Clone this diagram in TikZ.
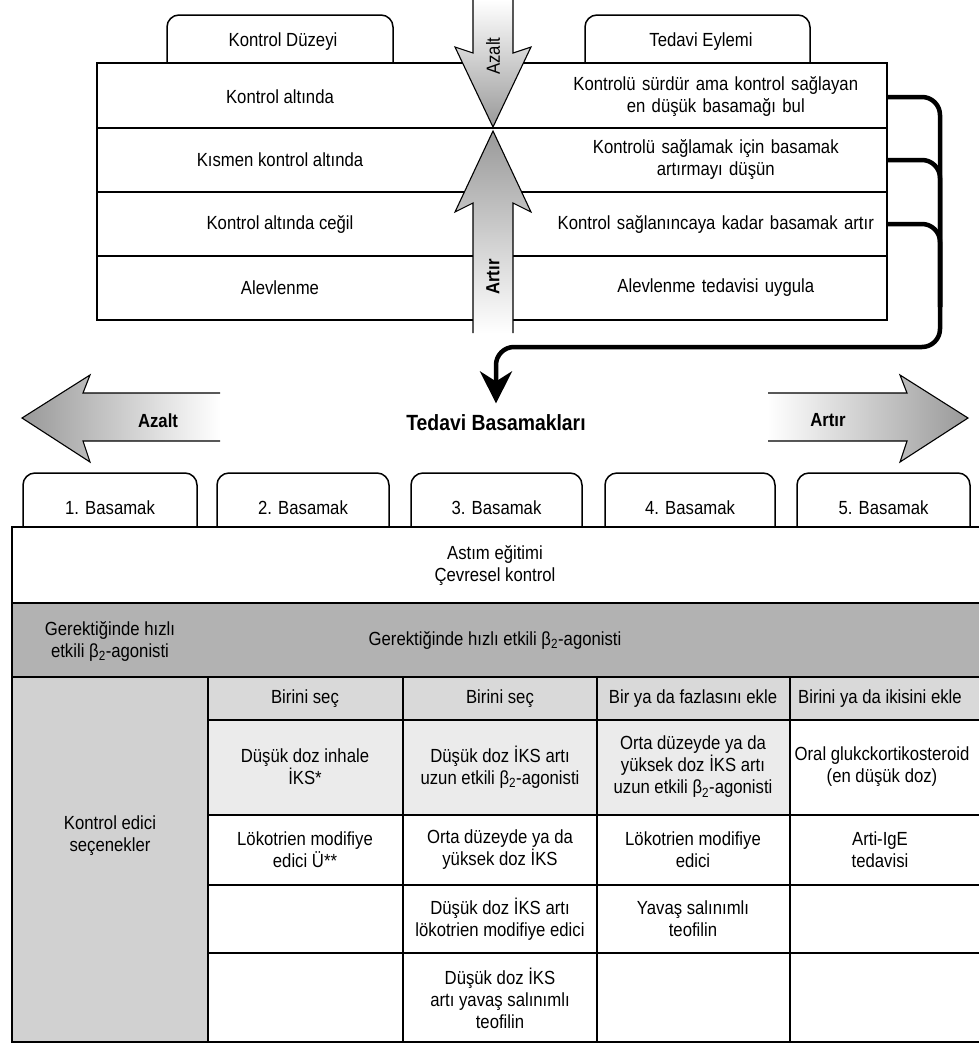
\documentclass[tikz,border=0pt]{standalone}
\usepackage{fontspec}
\setmainfont{Liberation Sans}[FakeStretch=0.88]
\usetikzlibrary{arrows.meta}

\definecolor{rowgray}{gray}{0.70}
\definecolor{colgray}{gray}{0.82}
\definecolor{hdrgray}{gray}{0.85}
\definecolor{lightgray}{gray}{0.92}
\definecolor{arrowgray}{gray}{0.60}

\begin{document}
\begin{tikzpicture}[x=1pt,y=-1pt,
    font=\fontsize{19}{22}\selectfont,
    tbl/.style={line width=2.6pt},
    tab/.style={line width=1.5pt,rounded corners=12pt},
    outl/.style={line width=1.1pt},
    cell/.style={align=center,inner sep=0pt},
    rcell/.style={cell,anchor=east,text width=330pt,inner xsep=6pt},
    arrlabel/.style={font=\fontsize{19}{21}\selectfont\bfseries},
    bracket/.style={line width=4.5pt,rounded corners=18pt}]
  \useasboundingbox (0,0) rectangle (979,1045);
  \clip (0,0) rectangle (979,1045);

  \draw[tab] (167,63) |- (280,15) -| (393,63);
  \draw[tab] (585,63) |- (700,15) -| (810,63);
  \node (level) at (283,42) {Kontrol Düzeyi};
  \node (action) at (701,42) {Tedavi Eylemi};

  \draw[tbl] (97,63) rectangle (887,320);
  \foreach \y in {128,192,256}
    \draw[tbl] (97,\y) -- (887,\y);
  \node (l1) at (280,97) {Kontrol altında};
  \node (l2) at (280,160) {Kısmen kontrol altında};
  \node (l3) at (280,224) {Kontrol altında ceğil};
  \node (l4) at (280,288) {Alevlenme};
  \node (r1) [rcell] at (887,97) {Kontrolü sürdür ama kontrol sağlayan\\en düşük basamağı bul};
  \node (r2) [rcell] at (887,160) {Kontrolü sağlamak için basamak\\artırmayı düşün};
  \node (r3) [rcell] at (887,224) {Kontrol sağlanıncaya kadar basamak artır};
  \node (r4) [rcell] at (887,288) {Alevlenme tedavisi uygula};

  % azalt / artir
  \shade[top color=white,bottom color=arrowgray] (473,0) -- (473,53) -- (455,47) -- (493,127) -- (531,47) -- (513,53) -- (513,0) -- cycle;
  \draw[outl] (473,0) -- (473,53) -- (455,47) -- (493,127) -- (531,47) -- (513,53) -- (513,0);
  \node (down) [rotate=90,font=\fontsize{19}{20}\selectfont] at (493,56) {Azalt};
  \shade[top color=arrowgray,bottom color=white] (493,131) -- (455,212) -- (473,203) -- (473,333) -- (513,333) -- (513,203) -- (531,212) -- cycle;
  \draw[outl] (473,333) -- (473,203) -- (455,212) -- (493,131) -- (531,212) -- (513,203) -- (513,333);
  \node (up) [rotate=90,font=\fontsize{19}{20}\selectfont\bfseries] at (493,277) {Artır};

  \shade[left color=arrowgray,right color=white] (220,393) -- (83,393) -- (90,375) -- (22,418) -- (90,462) -- (83,441) -- (220,441) -- cycle;
  \draw[outl] (220,393) -- (83,393) -- (90,375) -- (22,418) -- (90,462) -- (83,441) -- (220,441);
  \node (dec) [arrlabel] at (158,421) {Azalt};
  \shade[left color=white,right color=arrowgray] (768,393) -- (907,393) -- (900,375) -- (968,418) -- (900,462) -- (907,441) -- (768,441) -- cycle;
  \draw[outl] (768,393) -- (907,393) -- (900,375) -- (968,418) -- (900,462) -- (907,441) -- (768,441);
  \node (inc) [arrlabel] at (828,420) {Artır};

  \node (title) [font=\fontsize{22}{24}\selectfont\bfseries] at (496,423) {Tedavi Basamakları};
  \coordinate (rail) at (940,347);
  \draw[bracket] (r2.east) -| ([yshift=40pt]rail);
  \draw[bracket] (r3.east) -| ([yshift=40pt]rail);
  \draw[bracket,-{Stealth[length=32pt,width=32pt,inset=10pt]},shorten >=8pt] (r1.east) -| (rail) -| (title.north);

  \foreach \a/\b/\n in {23/197/1,217/389/2,411/582/3,605/775/4,797/970/5} {
    \draw[tab] (\a,527) |- ({(\a+\b)/2},473) -| (\b,527);
    \node (step\n) at ({(\a+\b)/2},508) {\n. Basamak};
  }

  % table
  \fill[rowgray] (12,603) rectangle (985,677);
  \fill[colgray] (12,677) rectangle (208,1042);
  \fill[hdrgray] (208,677) rectangle (985,720);
  \fill[lightgray] (208,720) rectangle (790,815);
  \draw[tbl] (12,527) rectangle (985,1042);
  \foreach \y in {603,677}
    \draw[tbl] (12,\y) -- (985,\y);
  \foreach \y in {720,815,885,953}
    \draw[tbl] (208,\y) -- (985,\y);
  \foreach \x in {208,403,597,790}
    \draw[tbl] (\x,677) -- (\x,1042);

  \node (edu) [cell] at (495,565) {Astım eğitimi\\Çevresel kontrol};
  \node (relief1) [cell] at (110,641) {Gerektiğinde hızlı\\etkili β\textsubscript{2}-agonisti};
  \node (relief) [cell] at (495,640) {Gerektiğinde hızlı etkili β\textsubscript{2}-agonisti};
  \node (ctrl) [cell] at (110,836) {Kontrol edici\\seçenekler};

  \node (h2) [cell] at (305,699) {Birini seç};
  \node (h3) [cell] at (500,699) {Birini seç};
  \node (h4) [cell] at (693,699) {Bir ya da fazlasını ekle};
  \node (h5) [cell] at (880,699) {Birini ya da ikisini ekle};

  \node (a2) [cell] at (305,767) {Düşük doz inhale\\İKS*};
  \node (a3) [cell] at (500,767) {Düşük doz İKS artı\\uzun etkili β\textsubscript{2}-agonisti};
  \node (a4) [cell] at (693,767) {Orta düzeyde ya da\\yüksek doz İKS artı\\uzun etkili β\textsubscript{2}-agonisti};
  \node (a5) [cell] at (882,767) {Oral glukckortikosteroid\\(en düşük doz)};

  \node (b2) [cell] at (305,850) {Lökotrien modifiye\\edici Ü**};
  \node (b3) [cell] at (500,850) {Orta düzeyde ya da\\yüksek doz İKS};
  \node (b4) [cell] at (693,850) {Lökotrien modifiye\\edici};
  \node (b5) [cell] at (880,850) {Arti-IgE\\tedavisi};

  \node (c3) [cell] at (500,919) {Düşük doz İKS artı\\lökotrien modifiye edici};
  \node (c4) [cell] at (693,919) {Yavaş salınımlı\\teofilin};

  \node (d3) [cell] at (500,998) {Düşük doz İKS\\artı yavaş salınımlı\\teofilin};
\end{tikzpicture}
\end{document}
